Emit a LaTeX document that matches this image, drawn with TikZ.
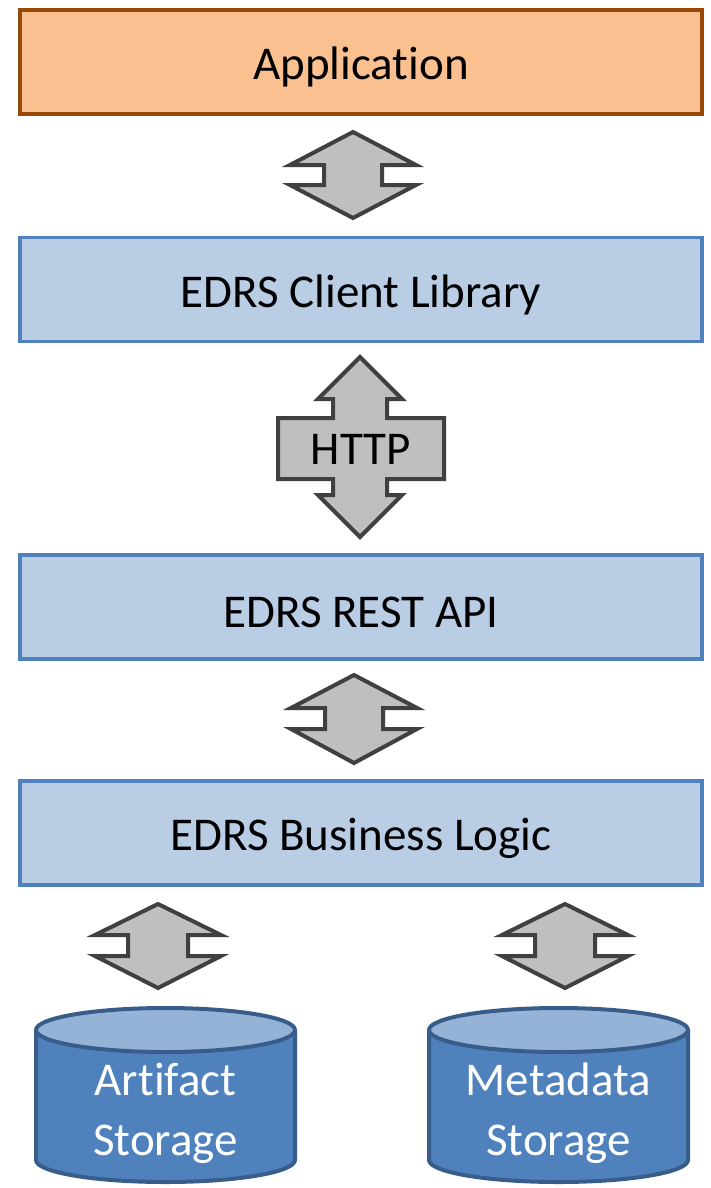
\documentclass[tikz,border=0pt]{standalone}
\usepackage{fontspec}
\setmainfont[Ligatures=CommonOff]{Carlito}
\definecolor{appfill}{HTML}{FAC090}
\definecolor{appdraw}{HTML}{984807}
\definecolor{boxfill}{HTML}{B9CDE5}
\definecolor{boxdraw}{HTML}{4F81BD}
\definecolor{arrfill}{HTML}{BFBFBF}
\definecolor{arrdraw}{HTML}{404040}
\definecolor{cylfill}{HTML}{4F81BD}
\definecolor{cyltop}{HTML}{95B3D7}
\definecolor{cyldraw}{HTML}{385D8A}
\tikzset{
  layerbox/.style={draw=boxdraw, fill=boxfill, line width=3.5pt, minimum width=682pt, minimum height=104pt, inner sep=0pt, font=\fontsize{47}{56}\selectfont},
  appbox/.style={layerbox, draw=appdraw, fill=appfill},
  blockarrow/.style={draw=arrdraw, fill=arrfill, line width=4pt, line join=miter},
  cylbody/.style={draw=cyldraw, fill=cylfill, line width=4pt},
  cyltopst/.style={draw=cyldraw, fill=cyltop, line width=4pt},
  cyltext/.style={text=white, align=center, font=\fontsize{47}{60}\selectfont}
}
% #1 cx, #2 top tip y, #3 upper head base y, #4 lower head base y, #5 bottom tip y, #6 head half width, #7 shaft half width
\newcommand\udblarrow[7]{%
  \draw[blockarrow] (#1,#2) -- (#1+#6,#3) -- (#1+#7,#3) -- (#1+#7,#4) -- (#1+#6,#4) -- (#1,#5)
    -- (#1-#6,#4) -- (#1-#7,#4) -- (#1-#7,#3) -- (#1-#6,#3) -- cycle;}
\newcommand\lowtext[1]{\raisebox{-5pt}[\height][\depth]{#1}}
\begin{document}
\begin{tikzpicture}[x=1pt,y=-1pt]
\useasboundingbox (0,0) rectangle (710,1188);
% layers
\node[appbox] (app) at (361,62) {\lowtext{Application}};
\node[layerbox] (client) at (361,289.5) {\lowtext{EDRS Client Library}};
\node[layerbox] (rest) at (361,607) {\lowtext{EDRS REST API}};
\node[layerbox] (logic) at (361,833) {\lowtext{EDRS Business Logic}};
% block arrows
\udblarrow{353}{132}{165}{185}{218}{63}{29}
\udblarrow{354}{675}{708}{729}{763}{63}{29}
\udblarrow{158}{904}{935}{956}{988}{63}{30}
\udblarrow{565}{904}{935}{956}{988}{63}{30}
% HTTP arrow
\draw[blockarrow] (360,357) -- (402,399) -- (387,399) -- (387,418) -- (444,418) -- (444,479)
  -- (387,479) -- (387,495) -- (402,495) -- (360,537) -- (318,495) -- (333,495) -- (333,479)
  -- (278,479) -- (278,418) -- (333,418) -- (333,399) -- (318,399) -- cycle;
\node[font=\fontsize{47}{56}\selectfont] (http) at (361,449) {HTTP};
% cylinders
\draw[cylbody] (36,1030) -- (36,1160) arc[start angle=180, end angle=0, x radius=129.5, y radius=22] -- (295,1030);
\draw[cyltopst] (165.5,1030) ellipse[x radius=129.5, y radius=22];
\node[cyltext] (art) at (165.5,1113) {Artifact\\Storage};
\draw[cylbody] (429,1030) -- (429,1160) arc[start angle=180, end angle=0, x radius=129.5, y radius=22] -- (688,1030);
\draw[cyltopst] (558.5,1030) ellipse[x radius=129.5, y radius=22];
\node[cyltext] (meta) at (558.5,1113) {Metadata\\Storage};
\end{tikzpicture}
\end{document}
